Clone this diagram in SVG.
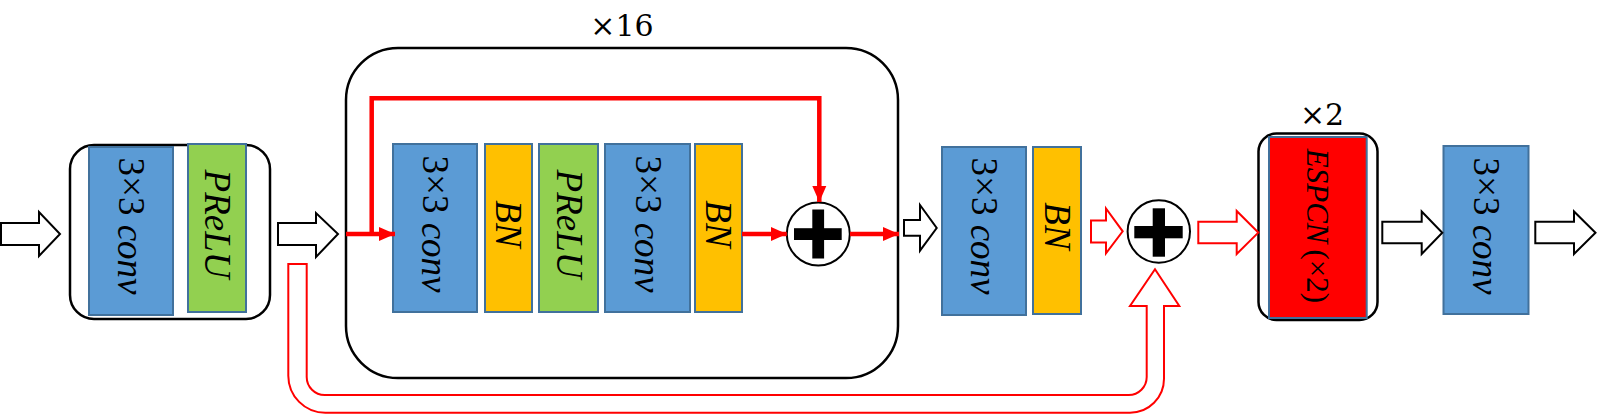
<svg xmlns="http://www.w3.org/2000/svg" width="1597" height="414" viewBox="0 0 1597 414">
<style>
.bg{fill:#fff}
.cont{fill:#fff;stroke:#000;stroke-width:2.5}
.blk{stroke:#41719C;stroke-width:2}
.conv{fill:#5B9BD5}
.bn{fill:#FFC000}
.pr{fill:#92D050}
.es{fill:#FF0000}
.t{font-family:"Liberation Serif","DejaVu Serif",serif;font-size:37px;fill:#000;text-anchor:middle;dominant-baseline:central}
.i{font-style:italic}
.lbl{font-family:"DejaVu Serif","Liberation Serif",serif;font-size:30px;fill:#000;text-anchor:middle}
.harrow{fill:#fff;stroke:#000;stroke-width:2;stroke-linejoin:miter}
.rharrow{fill:#fff;stroke:#FF0000;stroke-width:2;stroke-linejoin:miter}
.rline{fill:none;stroke:#FF0000;stroke-width:4.5}
.circ{fill:#fff;stroke:#000;stroke-width:2}
.plus{fill:#000}
</style>
<defs>
<marker id="rh" markerUnits="userSpaceOnUse" markerWidth="16" markerHeight="16" viewBox="0 0 16 16" refX="16" refY="8" orient="auto">
<path d="M0,1 L16,8 L0,15 Z" fill="#FF0000"/>
</marker>
</defs>
<rect class="bg" x="0" y="0" width="1597" height="414"/>

<g id="label-x16"><text class="lbl" x="622" y="36">×16</text></g>
<g id="label-x2"><text class="lbl" x="1322" y="125">×2</text></g>

<g id="block1">
<rect class="cont" x="70" y="145" width="200" height="174" rx="24"/>
<g id="b1-conv"><rect class="blk conv" x="89" y="147" width="84" height="168"/>
<text class="t" transform="translate(131,226) rotate(90)">3×3 <tspan class="i">conv</tspan></text></g>
<g id="b1-prelu"><rect class="blk pr" x="188" y="144" width="58" height="168"/>
<text class="t i" transform="translate(217,224) rotate(90)">PReLU</text></g>
</g>

<g id="resblock">
<rect class="cont" x="346" y="48" width="552" height="330" rx="52"/>
<g id="r-conv1"><rect class="blk conv" x="393" y="144" width="84" height="168"/>
<text class="t" transform="translate(435,224) rotate(90)">3×3 <tspan class="i">conv</tspan></text></g>
<g id="r-bn1"><rect class="blk bn" x="485" y="144" width="47" height="168"/>
<text class="t i" transform="translate(508,224) rotate(90)">BN</text></g>
<g id="r-prelu"><rect class="blk pr" x="539" y="144" width="59" height="168"/>
<text class="t i" transform="translate(569,224) rotate(90)">PReLU</text></g>
<g id="r-conv2"><rect class="blk conv" x="605" y="144" width="85" height="168"/>
<text class="t" transform="translate(648,224) rotate(90)">3×3 <tspan class="i">conv</tspan></text></g>
<g id="r-bn2"><rect class="blk bn" x="695" y="144" width="47" height="168"/>
<text class="t i" transform="translate(718,224) rotate(90)">BN</text></g>
<g id="r-sum"><circle class="circ" cx="818.3" cy="234" r="31.5"/>
<rect class="plus" x="794" y="228.2" width="47.7" height="11.8"/>
<rect class="plus" x="812.3" y="209.5" width="11.8" height="49"/></g>
</g>

<g id="conv3">
<rect class="blk conv" x="942" y="147" width="84" height="168"/>
<text class="t" transform="translate(984,226) rotate(90)">3×3 <tspan class="i">conv</tspan></text>
</g>
<g id="bn3">
<rect class="blk bn" x="1033" y="147" width="48" height="167"/>
<text class="t i" transform="translate(1057,226) rotate(90)">BN</text>
</g>
<g id="sum2">
<circle class="circ" cx="1158.8" cy="231.5" r="31.2"/>
<rect class="plus" x="1134.3" y="226" width="48.4" height="12.3"/>
<rect class="plus" x="1152.7" y="208.3" width="12.3" height="48.4"/>
</g>

<g id="espcn">
<rect class="cont" x="1258.5" y="133.5" width="119" height="186.5" rx="18"/>
<rect class="blk es" x="1269" y="137" width="97.7" height="181"/>
<text class="t" style="font-size:31px" transform="translate(1318,226) rotate(90)"><tspan class="i">ESPCN</tspan><tspan dx="6">(×2)</tspan></text>
</g>

<g id="conv4">
<rect class="blk conv" x="1443.5" y="146" width="85" height="168"/>
<text class="t" transform="translate(1486,226) rotate(90)">3×3 <tspan class="i">conv</tspan></text>
</g>

<g id="connectors">
<path class="harrow" d="M1,223 H39 V212 L60,234 L39,256 V245 H1 Z"/>
<path class="harrow" d="M278,223 H316 V213 L338,234 L316,257 V245 H278 Z"/>
<path class="harrow" d="M904,220 H920 V205 L936.7,228 L920,250.7 V235.7 H904 Z"/>
<path class="rharrow" d="M1091,220.5 H1106 V208.5 L1122.7,231.3 L1106,253.3 V242.5 H1091 Z"/>
<path class="rharrow" d="M1198.3,221.7 H1236.7 V211 L1258.3,232.6 L1236.7,254 V243.3 H1198.3 Z"/>
<path class="harrow" d="M1382.3,221.7 H1421.7 V211.5 L1442.3,232.7 L1421.7,254 V243.3 H1382.3 Z"/>
<path class="harrow" d="M1535.3,221.7 H1574 V211.5 L1595.5,232.7 L1574,254 V243.3 H1535.3 Z"/>
<path class="rharrow" d="M288.3,264 V375.7 A37,37 0 0 0 325.3,412.7 H1130 A34,34 0 0 0 1164,378.7 V306 H1179.3 L1155,269.3 L1130,306 H1146.7 V377 A18,18 0 0 1 1128.7,395 H324.7 A18,18 0 0 1 306.7,377 V264 Z"/>
<path class="rline" d="M346,234 H395" marker-end="url(#rh)"/>
<path class="rline" d="M371.7,234 V98.3 H819.3 V202" marker-end="url(#rh)"/>
<path class="rline" d="M742,234 H786.8" marker-end="url(#rh)"/>
<path class="rline" d="M850,234 H899" marker-end="url(#rh)"/>
</g>
</svg>
